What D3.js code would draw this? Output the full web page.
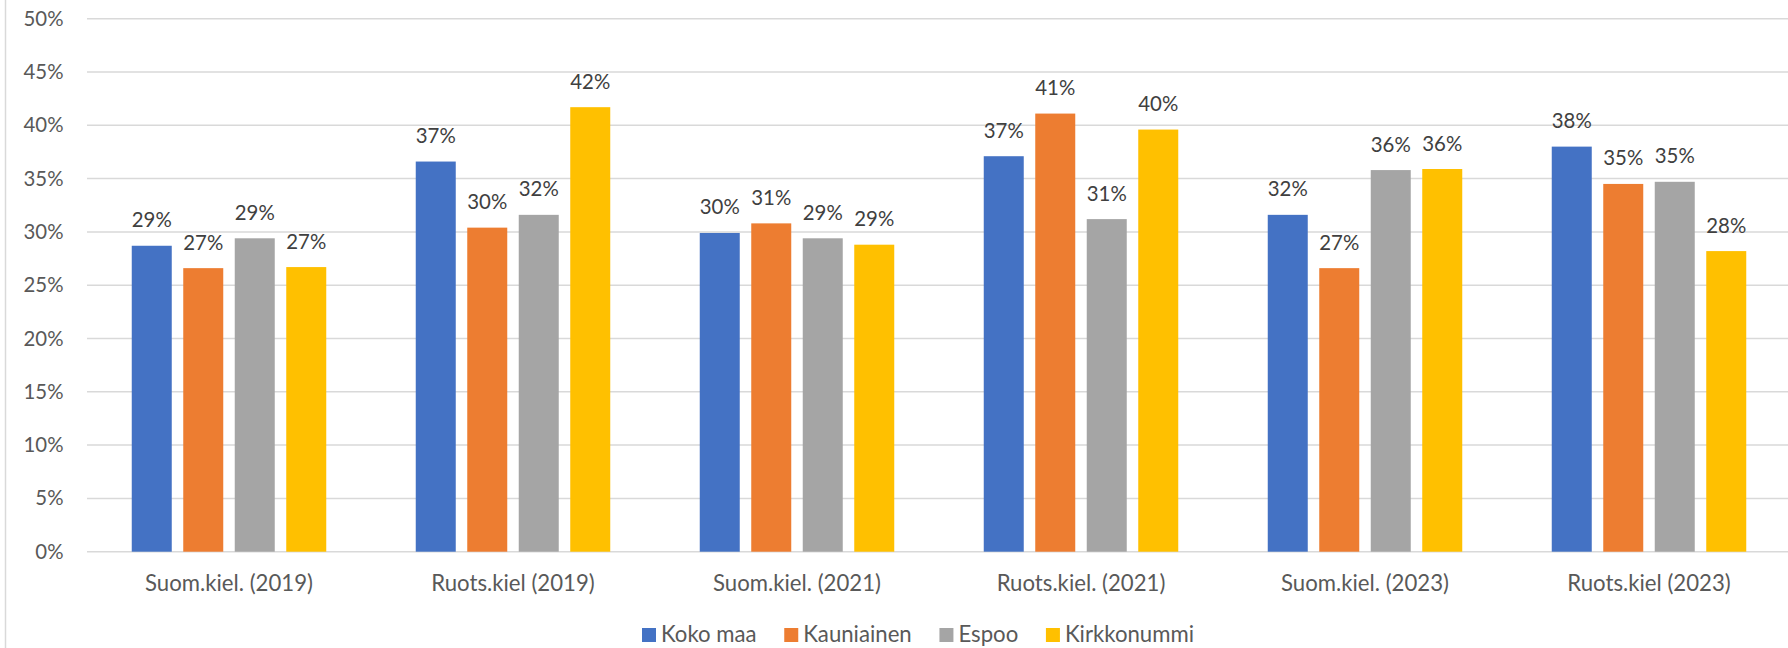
<!DOCTYPE html>
<html>
<head>
<meta charset="utf-8">
<script src="https://cdn.jsdelivr.net/npm/d3@7"></script>
<style>
  html, body { margin: 0; padding: 0; background: #fff; }
  svg { display: block; font-family: Lato, "Liberation Sans", sans-serif; }
</style>
</head>
<body>
<svg id="chart" width="1788" height="648"></svg>
<script>
const categories = ["Suom.kiel. (2019)", "Ruots.kiel (2019)", "Suom.kiel. (2021)", "Ruots.kiel. (2021)", "Suom.kiel. (2023)", "Ruots.kiel (2023)"];
const seriesNames = ["Koko maa", "Kauniainen", "Espoo", "Kirkkonummi"];
const kokoMaa     = [28.7, 36.6, 29.9, 37.1, 31.6, 38.0];
const kauniainen  = [26.6, 30.4, 30.8, 41.1, 26.6, 34.5];
const espoo       = [29.4, 31.6, 29.4, 31.2, 35.8, 34.7];
const kirkkonummi = [26.7, 41.7, 28.8, 39.6, 35.9, 28.2];
const colors = ["#4472C4", "#ED7D31", "#A5A5A5", "#FFC000"];
const yTicks = [0, 5, 10, 15, 20, 25, 30, 35, 40, 45, 50];

const seriesValues = [kokoMaa, kauniainen, espoo, kirkkonummi];

const svg = d3.select("#chart");
const W = 1788, H = 648;
const plotLeft = 87, plotRight = 1791, plotTop = 18.7, plotBottom = 551.7;

// helper: font size that makes a sample string a given width
function fitSize(sample, targetWidth) {
  const t = svg.append("text").style("font-size", "20px").text(sample);
  const w = t.node().getComputedTextLength();
  t.remove();
  return 20 * targetWidth / w;
}
const numSize = fitSize("50%", 40);
const catSize = fitSize("Suom.kiel. (2019)", 168);
const legSize = catSize;

// outer chart border (left edge visible)
svg.append("line").attr("x1", 5.5).attr("x2", 5.5).attr("y1", 0).attr("y2", H)
  .attr("stroke", "#D9D9D9").attr("stroke-width", 1.5);

const x0 = d3.scaleBand().domain(categories).range([plotLeft, plotRight]).padding(0);
const x1 = d3.scaleBand().domain(seriesNames).range([-97.25, 97.25]).paddingInner(11.5 / 51.5).paddingOuter(0);
const y = d3.scaleLinear().domain([0, 50]).range([plotBottom, plotTop]);

// gridlines
svg.append("g").selectAll("line").data(yTicks).join("line")
  .attr("x1", plotLeft).attr("x2", plotRight)
  .attr("y1", d => y(d)).attr("y2", d => y(d))
  .attr("stroke", "#D9D9D9").attr("stroke-width", 1.5);

// y axis labels
const yAxis = d3.axisLeft(y).tickValues(yTicks).tickFormat(d => d + "%").tickSize(0).tickPadding(0);
const yg = svg.append("g").attr("transform", `translate(63.5,0)`).call(yAxis);
yg.select(".domain").remove();
yg.selectAll("text").attr("fill", "#595959").style("font-size", numSize + "px").style("font-family", "Lato, sans-serif");

// bars
const groups = svg.append("g").selectAll("g").data(categories).join("g")
  .attr("transform", d => `translate(${x0(d) + x0.bandwidth() / 2},0)`);

groups.each(function(cat, ci) {
  const g = d3.select(this);
  const rows = seriesNames.map((s, si) => ({ s, si, v: seriesValues[si][ci] }));
  g.selectAll("rect").data(rows).join("rect")
    .attr("x", d => x1(d.s))
    .attr("width", x1.bandwidth())
    .attr("y", d => y(d.v))
    .attr("height", d => y(0) - y(d.v))
    .attr("fill", d => colors[d.si]);
  g.selectAll("text").data(rows).join("text")
    .attr("x", d => x1(d.s) + x1.bandwidth() / 2)
    .attr("y", d => y(d.v) - 18.5)
    .attr("text-anchor", "middle")
    .attr("fill", "#404040")
    .style("font-size", numSize + "px")
    .text(d => Math.round(d.v) + "%");
});

// x axis labels
const xAxis = d3.axisBottom(x0).tickSize(0).tickPadding(0);
const xg = svg.append("g").attr("transform", `translate(0,${plotBottom})`).call(xAxis);
xg.select(".domain").remove();
xg.selectAll("text").attr("fill", "#595959").attr("dy", 0).attr("y", 39)
  .style("font-size", catSize + "px").style("font-family", "Lato, sans-serif");

// legend: spans from x=642 to x=1194
const legend = svg.append("g");
const legStart = 642, legEnd = 1194, sq = 14, sqGap = 5;
const items = seriesNames.map((s, i) => {
  const t = legend.append("text").attr("y", 642).attr("fill", "#595959")
    .style("font-size", legSize + "px").text(s);
  return { t, i, w: t.node().getComputedTextLength() };
});
const used = d3.sum(items, d => sq + sqGap + d.w);
const itemGap = (legEnd - legStart - used) / (items.length - 1);
let lx = legStart;
items.forEach(d => {
  legend.append("rect").attr("x", lx).attr("y", 628).attr("width", sq).attr("height", sq).attr("fill", colors[d.i]);
  d.t.attr("x", lx + sq + sqGap);
  lx += sq + sqGap + d.w + itemGap;
});
</script>
</body>
</html>
